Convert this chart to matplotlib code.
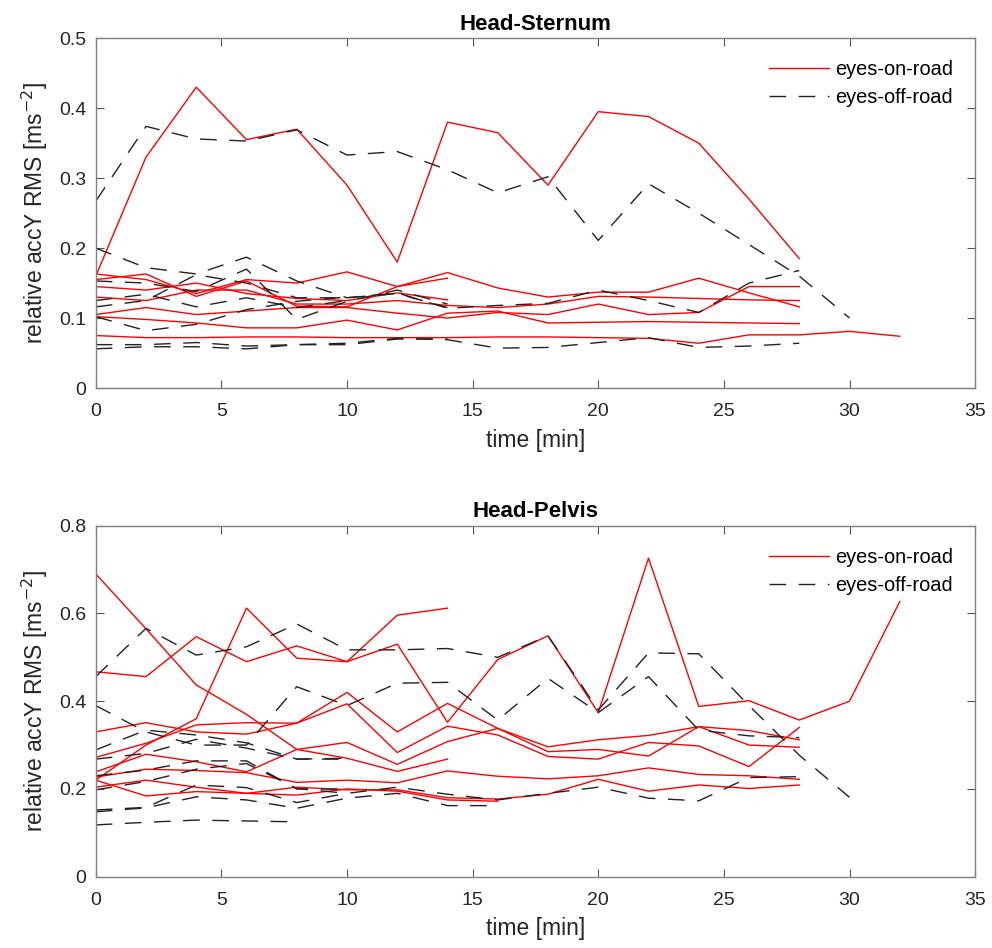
import matplotlib
matplotlib.use("Agg")

import matplotlib.pyplot as plt
import numpy as np

plt.rcParams['font.family'] = ['Liberation Sans', 'DejaVu Sans']

# sampling interval of all recordings [min]
time_step = 2

# ---------------- Head-Sternum ---------------- #
sternum_on = [
    [0.16, 0.33, 0.43, 0.355, 0.37, 0.29, 0.18, 0.38, 0.365, 0.29, 0.395, 0.388, 0.35, 0.27, 0.185],
    [0.163, 0.155, 0.135, 0.155, 0.15, 0.166, 0.145, 0.165, 0.143, 0.13, 0.137, 0.137, 0.157, 0.136, 0.116],
    [0.155, 0.163, 0.131, 0.153, 0.117, 0.116, 0.145, 0.157],
    [0.145, 0.14, 0.15, 0.135, 0.128, 0.125, 0.136, 0.126],
    [0.13, 0.125, 0.14, 0.14, 0.12, 0.12, 0.125, 0.118, 0.115, 0.12, 0.131, 0.13, 0.128, 0.126, 0.125],
    [0.105, 0.115, 0.105, 0.11, 0.115, 0.115, 0.107, 0.1, 0.108, 0.105, 0.12, 0.105, 0.108, 0.145, 0.145],
    [0.102, 0.098, 0.093, 0.086, 0.086, 0.097, 0.083, 0.107, 0.11, 0.093, 0.094, 0.095, 0.094, 0.093, 0.092],
    [0.075, 0.072, 0.072, 0.073, 0.073, 0.072, 0.072, 0.072, 0.073, 0.073, 0.072, 0.071, 0.064, 0.076, 0.076, 0.081, 0.074],
]
sternum_off = [
    [0.267, 0.374, 0.356, 0.353, 0.369, 0.333, 0.338, 0.312, 0.279, 0.302, 0.211, 0.292, 0.25, 0.205, 0.16, 0.1],
    [0.2, 0.172, 0.163, 0.187, 0.153, 0.129, 0.136, 0.114, 0.118, 0.121, 0.14, 0.125, 0.108, 0.15, 0.168],
    [0.153, 0.15, 0.138, 0.17, 0.098, 0.124, 0.14, 0.12],
    [0.116, 0.125, 0.162, 0.15, 0.129, 0.129, 0.135, 0.115],
    [0.102, 0.082, 0.091, 0.112, 0.124, 0.13],
    [0.125, 0.134, 0.116, 0.129, 0.115, 0.125],
    [0.062, 0.062, 0.065, 0.06, 0.062, 0.064, 0.071, 0.069, 0.057, 0.058, 0.065, 0.072, 0.058, 0.06, 0.064],
    [0.056, 0.059, 0.059, 0.056, 0.062, 0.062, 0.07, 0.07],
]

# ---------------- Head-Pelvis ---------------- #
pelvis_on = [
    [0.69, 0.565, 0.437, 0.37, 0.29, 0.306, 0.256, 0.308, 0.338, 0.285, 0.29, 0.275, 0.342, 0.3, 0.295],
    [0.467, 0.456, 0.547, 0.49, 0.526, 0.49, 0.596, 0.612],
    [0.22, 0.3, 0.36, 0.612, 0.498, 0.49, 0.53, 0.352, 0.495, 0.549, 0.374, 0.726, 0.388, 0.401, 0.357, 0.4, 0.627],
    [0.33, 0.351, 0.33, 0.325, 0.35, 0.42, 0.33, 0.395, 0.338, 0.296, 0.312, 0.322, 0.342, 0.333, 0.312],
    [0.272, 0.304, 0.346, 0.351, 0.35, 0.394, 0.283, 0.343, 0.323, 0.274, 0.268, 0.306, 0.298, 0.251, 0.34],
    [0.239, 0.279, 0.262, 0.239, 0.29, 0.27, 0.24, 0.268],
    [0.227, 0.245, 0.242, 0.237, 0.215, 0.22, 0.214, 0.241, 0.229, 0.223, 0.23, 0.248, 0.233, 0.23, 0.222],
    [0.204, 0.22, 0.204, 0.19, 0.204, 0.198, 0.198, 0.18, 0.177, 0.188, 0.222, 0.195, 0.209, 0.201, 0.209],
    [0.22, 0.184, 0.194, 0.19, 0.186, 0.2, 0.195, 0.175, 0.172],
]
pelvis_off = [
    [0.456, 0.566, 0.505, 0.524, 0.576, 0.517, 0.517, 0.52, 0.5, 0.549, 0.38, 0.51, 0.508, 0.39, 0.277, 0.181],
    [0.39, 0.33, 0.3, 0.3, 0.433, 0.39, 0.441, 0.443, 0.357, 0.452, 0.374, 0.456, 0.334, 0.321, 0.317],
    [0.289, 0.334, 0.323, 0.305, 0.268, 0.268],
    [0.268, 0.281, 0.313, 0.293, 0.268, 0.27],
    [0.23, 0.243, 0.264, 0.264, 0.2, 0.2],
    [0.198, 0.217, 0.245, 0.258, 0.201, 0.19],
    [0.152, 0.158, 0.209, 0.203, 0.169, 0.19, 0.204, 0.188, 0.175, 0.19, 0.204, 0.179, 0.173, 0.226, 0.228],
    [0.148, 0.157, 0.182, 0.175, 0.156, 0.179, 0.19, 0.162, 0.162],
    [0.118, 0.124, 0.129, 0.127, 0.125],
]

panels = [
    ('Head-Sternum', sternum_on, sternum_off, 0.5, [0, 0.1, 0.2, 0.3, 0.4, 0.5]),
    ('Head-Pelvis', pelvis_on, pelvis_off, 0.8, [0, 0.2, 0.4, 0.6, 0.8]),
]

# ------------------ plotting ------------------ #
fig = plt.figure(figsize=(9.92, 9.48), dpi=100)
ax_boxes = [[0.0965, 0.5907, 0.8865, 0.369], [0.0965, 0.0752, 0.8865, 0.3703]]

for box, (title, on_runs, off_runs, ymax, yticks) in zip(ax_boxes, panels):
    ax = fig.add_axes(box)
    for k, run in enumerate(on_runs):
        t = np.arange(len(run)) * time_step
        ax.plot(t, run, color='#ff0000', lw=1.0,
                label='eyes-on-road' if k == 0 else None)
    for k, run in enumerate(off_runs):
        t = np.arange(len(run)) * time_step
        ax.plot(t, run, color='#222222', lw=1.0, dashes=(12, 9),
                label='eyes-off-road' if k == 0 else None)

    ax.set_xlim(0, 35)
    ax.set_ylim(0, ymax)
    ax.set_yticks(yticks)
    ax.set_yticklabels([('%g' % v) for v in yticks])
    ax.set_xticks(range(0, 36, 5))
    ax.tick_params(direction='in', top=True, right=True, length=6,
                   color='#555555', labelcolor='#262626', labelsize=14)
    ax.tick_params(axis='x', pad=11)
    ax.tick_params(axis='y', pad=7)
    for s in ax.spines.values():
        s.set_color('#808080')
        s.set_linewidth(1.0)
    ax.set_xlabel('time [min]', fontsize=16.5, color='#262626', labelpad=6)
    ax.set_ylabel('relative accY RMS [ms$^{-2}$]', fontsize=16.5, color='#262626', labelpad=6)
    ax.set_title(title, fontsize=16, fontweight='bold', pad=6)
    ax.legend(loc='upper right', frameon=False, fontsize=14.4, handlelength=3.0,
              handletextpad=0.3, borderaxespad=0.9, borderpad=0.2, labelspacing=0.45)

plt.savefig('out.png', dpi=100)
